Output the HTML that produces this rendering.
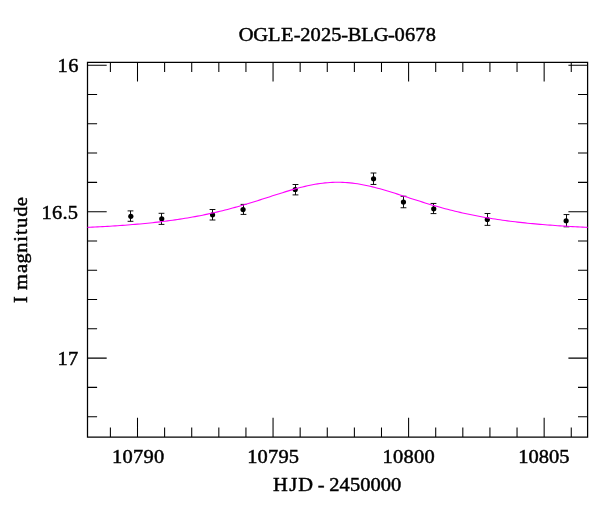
<!DOCTYPE html><html><head><meta charset="utf-8"><title>OGLE-2025-BLG-0678</title>
<style>html,body{margin:0;padding:0;background:#fff}body{width:600px;height:512px;overflow:hidden}svg{display:block}text{font-family:"Liberation Serif",serif;font-size:18.80px;fill:#000;white-space:pre;stroke:#000;stroke-width:0.45px;}</style></head><body>
<svg width="600" height="512" viewBox="0 0 600 512">
<rect width="600" height="512" fill="#fff"/>
<path d="M87.50,62.35 H587.60 V437.00 H87.50 Z" fill="none" stroke="#000" stroke-width="1.25"/>
<path d="M110.39,62.35 v9.60 M110.39,437.00 v-9.60 M137.50,62.35 v19.20 M137.50,437.00 v-19.20 M164.61,62.35 v9.60 M164.61,437.00 v-9.60 M191.72,62.35 v9.60 M191.72,437.00 v-9.60 M218.83,62.35 v9.60 M218.83,437.00 v-9.60 M245.94,62.35 v9.60 M245.94,437.00 v-9.60 M273.05,62.35 v19.20 M273.05,437.00 v-19.20 M300.16,62.35 v9.60 M300.16,437.00 v-9.60 M327.27,62.35 v9.60 M327.27,437.00 v-9.60 M354.38,62.35 v9.60 M354.38,437.00 v-9.60 M381.49,62.35 v9.60 M381.49,437.00 v-9.60 M408.60,62.35 v19.20 M408.60,437.00 v-19.20 M435.71,62.35 v9.60 M435.71,437.00 v-9.60 M462.82,62.35 v9.60 M462.82,437.00 v-9.60 M489.93,62.35 v9.60 M489.93,437.00 v-9.60 M517.04,62.35 v9.60 M517.04,437.00 v-9.60 M544.15,62.35 v19.20 M544.15,437.00 v-19.20 M571.26,62.35 v9.60 M571.26,437.00 v-9.60 M87.50,65.20 h19.20 M587.60,65.20 h-19.20 M87.50,94.49 h9.60 M587.60,94.49 h-9.60 M87.50,123.78 h9.60 M587.60,123.78 h-9.60 M87.50,153.07 h9.60 M587.60,153.07 h-9.60 M87.50,182.36 h9.60 M587.60,182.36 h-9.60 M87.50,211.65 h19.20 M587.60,211.65 h-19.20 M87.50,240.94 h9.60 M587.60,240.94 h-9.60 M87.50,270.23 h9.60 M587.60,270.23 h-9.60 M87.50,299.52 h9.60 M587.60,299.52 h-9.60 M87.50,328.81 h9.60 M587.60,328.81 h-9.60 M87.50,358.10 h19.20 M587.60,358.10 h-19.20 M87.50,387.39 h9.60 M587.60,387.39 h-9.60 M87.50,416.68 h9.60 M587.60,416.68 h-9.60" fill="none" stroke="#000" stroke-width="1.05"/>
<path d="M130.50,210.90 V221.30 M127.60,210.90 h5.8 M127.60,221.30 h5.8 M161.50,213.30 V224.40 M158.60,213.30 h5.8 M158.60,224.40 h5.8 M212.50,209.50 V220.00 M209.60,209.50 h5.8 M209.60,220.00 h5.8 M243.50,204.40 V214.40 M240.60,204.40 h5.8 M240.60,214.40 h5.8 M295.50,184.50 V194.90 M292.60,184.50 h5.8 M292.60,194.90 h5.8 M373.50,173.00 V184.45 M370.60,173.00 h5.8 M370.60,184.45 h5.8 M403.50,196.25 V207.75 M400.60,196.25 h5.8 M400.60,207.75 h5.8 M433.50,203.45 V213.60 M430.60,203.45 h5.8 M430.60,213.60 h5.8 M487.50,213.50 V225.36 M484.60,213.50 h5.8 M484.60,225.36 h5.8 M566.50,214.57 V226.80 M563.60,214.57 h5.8 M563.60,226.80 h5.8" fill="none" stroke="#000" stroke-width="0.95"/>
<circle cx="130.83" cy="216.30" r="2.6" fill="#000"/>
<circle cx="161.75" cy="218.75" r="2.6" fill="#000"/>
<circle cx="212.55" cy="214.80" r="2.6" fill="#000"/>
<circle cx="243.05" cy="209.60" r="2.6" fill="#000"/>
<circle cx="295.23" cy="189.50" r="2.6" fill="#000"/>
<circle cx="373.55" cy="178.73" r="2.6" fill="#000"/>
<circle cx="403.45" cy="202.00" r="2.6" fill="#000"/>
<circle cx="433.75" cy="208.80" r="2.6" fill="#000"/>
<circle cx="487.30" cy="219.50" r="2.6" fill="#000"/>
<circle cx="566.14" cy="220.75" r="2.6" fill="#000"/>
<path d="M87.50,227.39 L90.00,227.27 L92.50,227.15 L95.00,227.02 L97.50,226.90 L100.00,226.76 L102.50,226.63 L105.00,226.48 L107.50,226.34 L110.00,226.19 L112.50,226.03 L115.01,225.87 L117.51,225.70 L120.01,225.53 L122.51,225.35 L125.01,225.17 L127.51,224.98 L130.01,224.78 L132.51,224.58 L135.01,224.37 L137.51,224.15 L140.01,223.93 L142.51,223.69 L145.01,223.45 L147.51,223.21 L150.01,222.95 L152.51,222.68 L155.01,222.41 L157.51,222.13 L160.01,221.84 L162.51,221.54 L165.02,221.22 L167.52,220.90 L170.02,220.57 L172.52,220.23 L175.02,219.87 L177.52,219.51 L180.02,219.13 L182.52,218.74 L185.02,218.34 L187.52,217.93 L190.02,217.50 L192.52,217.06 L195.02,216.61 L197.52,216.14 L200.02,215.66 L202.52,215.16 L205.02,214.65 L207.52,214.13 L210.02,213.59 L212.53,213.04 L215.03,212.47 L217.53,211.89 L220.03,211.29 L222.53,210.68 L225.03,210.05 L227.53,209.41 L230.03,208.75 L232.53,208.08 L235.03,207.39 L237.53,206.69 L240.03,205.98 L242.53,205.25 L245.03,204.52 L247.53,203.77 L250.03,203.01 L252.53,202.24 L255.03,201.46 L257.53,200.67 L260.03,199.87 L262.54,199.07 L265.04,198.27 L267.54,197.46 L270.04,196.65 L272.54,195.84 L275.04,195.04 L277.54,194.24 L280.04,193.44 L282.54,192.66 L285.04,191.88 L287.54,191.12 L290.04,190.37 L292.54,189.64 L295.04,188.94 L297.54,188.25 L300.04,187.59 L302.54,186.96 L305.04,186.36 L307.54,185.79 L310.04,185.25 L312.55,184.75 L315.05,184.30 L317.55,183.88 L320.05,183.51 L322.55,183.18 L325.05,182.90 L327.55,182.67 L330.05,182.49 L332.55,182.36 L335.05,182.28 L337.55,182.25 L340.05,182.27 L342.55,182.34 L345.05,182.47 L347.55,182.64 L350.05,182.87 L352.55,183.14 L355.05,183.46 L357.55,183.83 L360.05,184.24 L362.56,184.69 L365.06,185.18 L367.56,185.71 L370.06,186.27 L372.56,186.87 L375.06,187.50 L377.56,188.15 L380.06,188.84 L382.56,189.54 L385.06,190.27 L387.56,191.01 L390.06,191.77 L392.56,192.55 L395.06,193.33 L397.56,194.12 L400.06,194.92 L402.56,195.73 L405.06,196.54 L407.56,197.34 L410.06,198.15 L412.56,198.96 L415.07,199.76 L417.57,200.55 L420.07,201.34 L422.57,202.12 L425.07,202.90 L427.57,203.66 L430.07,204.41 L432.57,205.15 L435.07,205.88 L437.57,206.59 L440.07,207.29 L442.57,207.98 L445.07,208.65 L447.57,209.31 L450.07,209.96 L452.57,210.59 L455.07,211.20 L457.57,211.80 L460.07,212.39 L462.58,212.96 L465.08,213.51 L467.58,214.05 L470.08,214.58 L472.58,215.09 L475.08,215.59 L477.58,216.07 L480.08,216.54 L482.58,216.99 L485.08,217.44 L487.58,217.86 L490.08,218.28 L492.58,218.68 L495.08,219.07 L497.58,219.45 L500.08,219.82 L502.58,220.18 L505.08,220.52 L507.58,220.86 L510.08,221.18 L512.59,221.49 L515.09,221.79 L517.59,222.09 L520.09,222.37 L522.59,222.65 L525.09,222.91 L527.59,223.17 L530.09,223.42 L532.59,223.66 L535.09,223.89 L537.59,224.12 L540.09,224.34 L542.59,224.55 L545.09,224.75 L547.59,224.95 L550.09,225.14 L552.59,225.33 L555.09,225.50 L557.59,225.68 L560.09,225.85 L562.60,226.01 L565.10,226.16 L567.60,226.32 L570.10,226.46 L572.60,226.61 L575.10,226.74 L577.60,226.88 L580.10,227.01 L582.60,227.13 L585.10,227.25 L587.60,227.37" fill="none" stroke="#ff00ff" stroke-width="1.08"/>
<text transform="translate(238.97,41.20) scale(1.0900,1.000)" x="-0.13 13.20 26.61 38.51 50.15 56.19 65.71 75.23 84.76 93.94 99.83 112.25 123.58 136.75 142.79 152.31 161.83 171.35">OGLE-2025-BLG-0678</text>
<text transform="translate(272.70,491.40) scale(1.0900,1.000)" x="0.29 15.22 23.42 36.83 41.24 47.21 51.95 61.40 70.84 80.29 89.74 99.18 108.63">HJD - 2450000</text>
<text transform="translate(111.79,462.50) scale(1.0900,1.000)" x="0.14 9.81 19.48 29.15 38.82">10790</text>
<text transform="translate(247.09,462.50) scale(1.0900,1.000)" x="0.08 9.64 19.21 28.77 38.33">10795</text>
<text transform="translate(382.25,462.50) scale(1.0900,1.000)" x="0.13 9.78 19.43 29.09 38.74">10800</text>
<text transform="translate(518.32,462.50) scale(1.0900,1.000)" x="0.00 9.41 18.81 28.21 37.62">10805</text>
<text transform="translate(57.18,72.30) scale(1.0900,1.000)" x="0.26 10.17">16</text>
<text transform="translate(41.45,218.80) scale(1.0900,1.000)" x="0.11 9.72 19.28 24.14">16.5</text>
<text transform="translate(57.40,364.80) scale(1.0900,1.000)" x="0.13 9.80">17</text>
<text transform="translate(26.50,303.33) rotate(-90) scale(1.0900,1.050)" x="0.37 7.05 12.14 27.72 36.60 46.48 56.54 62.60 69.12 79.33 89.10">I magnitude</text>
</svg></body></html>
